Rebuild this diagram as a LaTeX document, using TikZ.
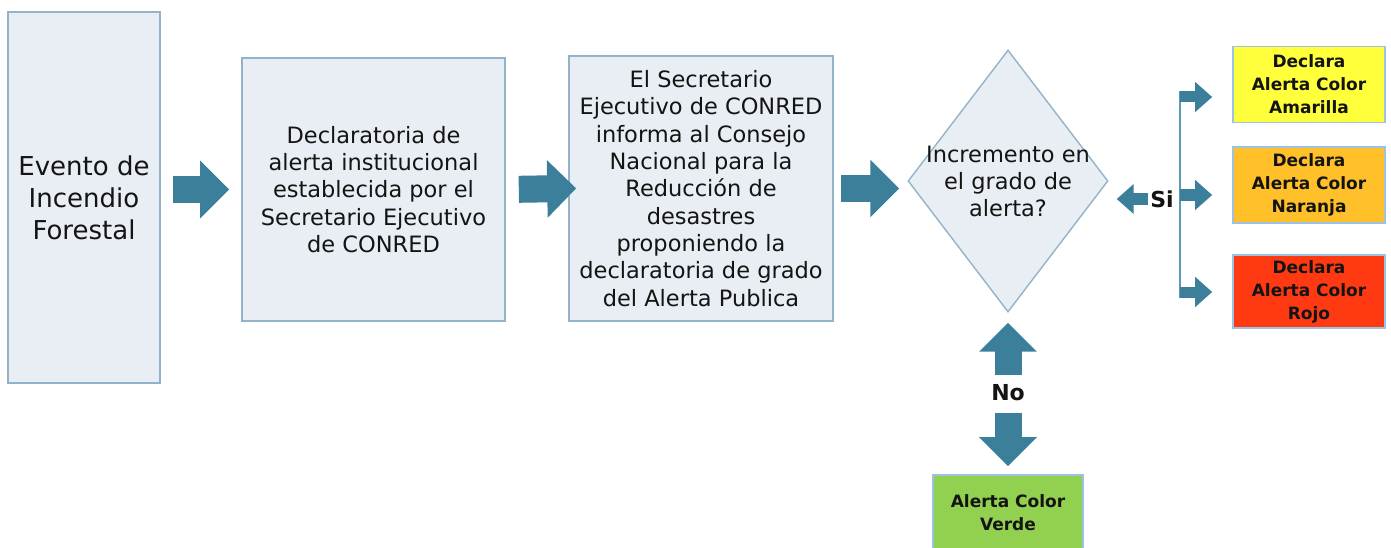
\documentclass[tikz,border=0pt]{standalone}
\usepackage{fontspec}
\setmainfont{DejaVu Sans}
\usetikzlibrary{arrows.meta,shapes.geometric,calc}
\definecolor{boxfill}{HTML}{E9EEF4}
\definecolor{boxline}{HTML}{93B3CA}
\definecolor{arr}{HTML}{3B7F9B}
\definecolor{branch}{HTML}{5B9BB9}
\definecolor{cyellow}{HTML}{FFFF3C}
\definecolor{corange}{HTML}{FFC02A}
\definecolor{cred}{HTML}{FF3A12}
\definecolor{cgreen}{HTML}{92D050}
\definecolor{cline}{HTML}{9CC2E5}
\definecolor{txt}{HTML}{141414}
\begin{document}
\begin{tikzpicture}[x=1pt,y=-1pt,
  procbox/.style={draw=boxline, line width=1.6pt, fill=boxfill, inner sep=0pt,
    align=center, text=txt, font=\fontsize{22.5}{27.3}\selectfont},
  decision/.style={diamond, draw=boxline, line width=1.4pt, fill=boxfill, inner sep=0pt,
    minimum width=200pt, minimum height=262pt},
  dtext/.style={inner sep=0pt, align=center, text=txt, font=\fontsize{22.5}{27}\selectfont},
  alertbox/.style={draw=cline, line width=1.6pt, inner sep=0pt, align=center, text=txt,
    minimum width=152pt, font=\bfseries\fontsize{17}{23}\selectfont},
  lbl/.style={inner sep=0pt, text=txt, font=\bfseries\fontsize{22}{24}\selectfont},
  bigarrow/.style={draw=arr, line width=27pt, -{Triangle[width=56pt,length=29pt]}},
  smallarrow/.style={draw=arr, line width=11pt, -{Triangle[width=29pt,length=17pt]}}
]
\useasboundingbox (0,0) rectangle (1391,548);
\fill[white] (0,0) rectangle (1391,548);

\node[procbox, minimum width=152pt, minimum height=371pt, font=\fontsize{26}{32}\selectfont]
  (box1) at (84,197.5) {Evento de\\Incendio\\Forestal};
\node[procbox, minimum width=263pt, minimum height=263pt] (box2) at (373.5,189.5)
  {Declaratoria de\\alerta institucional\\establecida por el\\Secretario Ejecutivo\\de CONRED};
\node[procbox, minimum width=264pt, minimum height=265pt] (box3) at (701,188.5)
  {El Secretario\\Ejecutivo de CONRED\\informa al Consejo\\Nacional para la\\Reducción de\\desastres\\proponiendo la\\declaratoria de grado\\del Alerta Publica};
\node[decision] (dia) at (1008,181) {};
\node[dtext] (diatext) at (dia.center) {Incremento en\\el grado de\\alerta?};

\node[alertbox, fill=cyellow, minimum height=76pt] (yellow) at (1309,84.5) {Declara\\Alerta Color\\Amarilla};
\node[alertbox, fill=corange, minimum height=76pt] (orange) at (1309,185) {Declara\\Alerta Color\\Naranja};
\node[alertbox, fill=cred, minimum height=73pt] (red) at (1309,291.5) {Declara\\Alerta Color\\Rojo};
\node[alertbox, fill=cgreen, minimum width=150pt, minimum height=76pt] (green) at (1008,513)
  {Alerta Color\\Verde};

\node[lbl, minimum height=36pt] (no) at (1008,393) {No};
\node[lbl, minimum width=28pt] (si) at (1162,199) {Si};

% main flow arrows
\draw[bigarrow, shorten <=12pt, shorten >=12pt] (box1.east |- box2.west) -- (box2.west);
\draw[bigarrow, shorten <=13pt, shorten >=-8pt] (box2.east) -- (box3.west);
\draw[bigarrow, shorten <=7pt, shorten >=8pt] (box3.east) -- (box3.east -| dia.west);

% No branch
\draw[bigarrow, shorten >=10pt] (no.north) -- (dia.south);
\draw[bigarrow, shorten <=2pt, shorten >=8pt] (no.south) -- (green.north);

% Si branch
\draw[smallarrow, shorten <=0pt, shorten >=8pt] (si.west) -- (si.west -| dia.east);
\coordinate (b1) at (1180,97);
\coordinate (b2) at (1180,195);
\coordinate (b3) at (1180,292);
\draw[branch, line width=2.5pt] ($(b1)+(0,-6)$) -- ($(b3)+(0,6)$);
\draw[smallarrow, shorten >=20pt] (b1) -- (b1 -| yellow.west);
\draw[smallarrow, shorten >=20pt] (b2) -- (b2 -| orange.west);
\draw[smallarrow, shorten >=20pt] (b3) -- (b3 -| red.west);
\end{tikzpicture}
\end{document}
